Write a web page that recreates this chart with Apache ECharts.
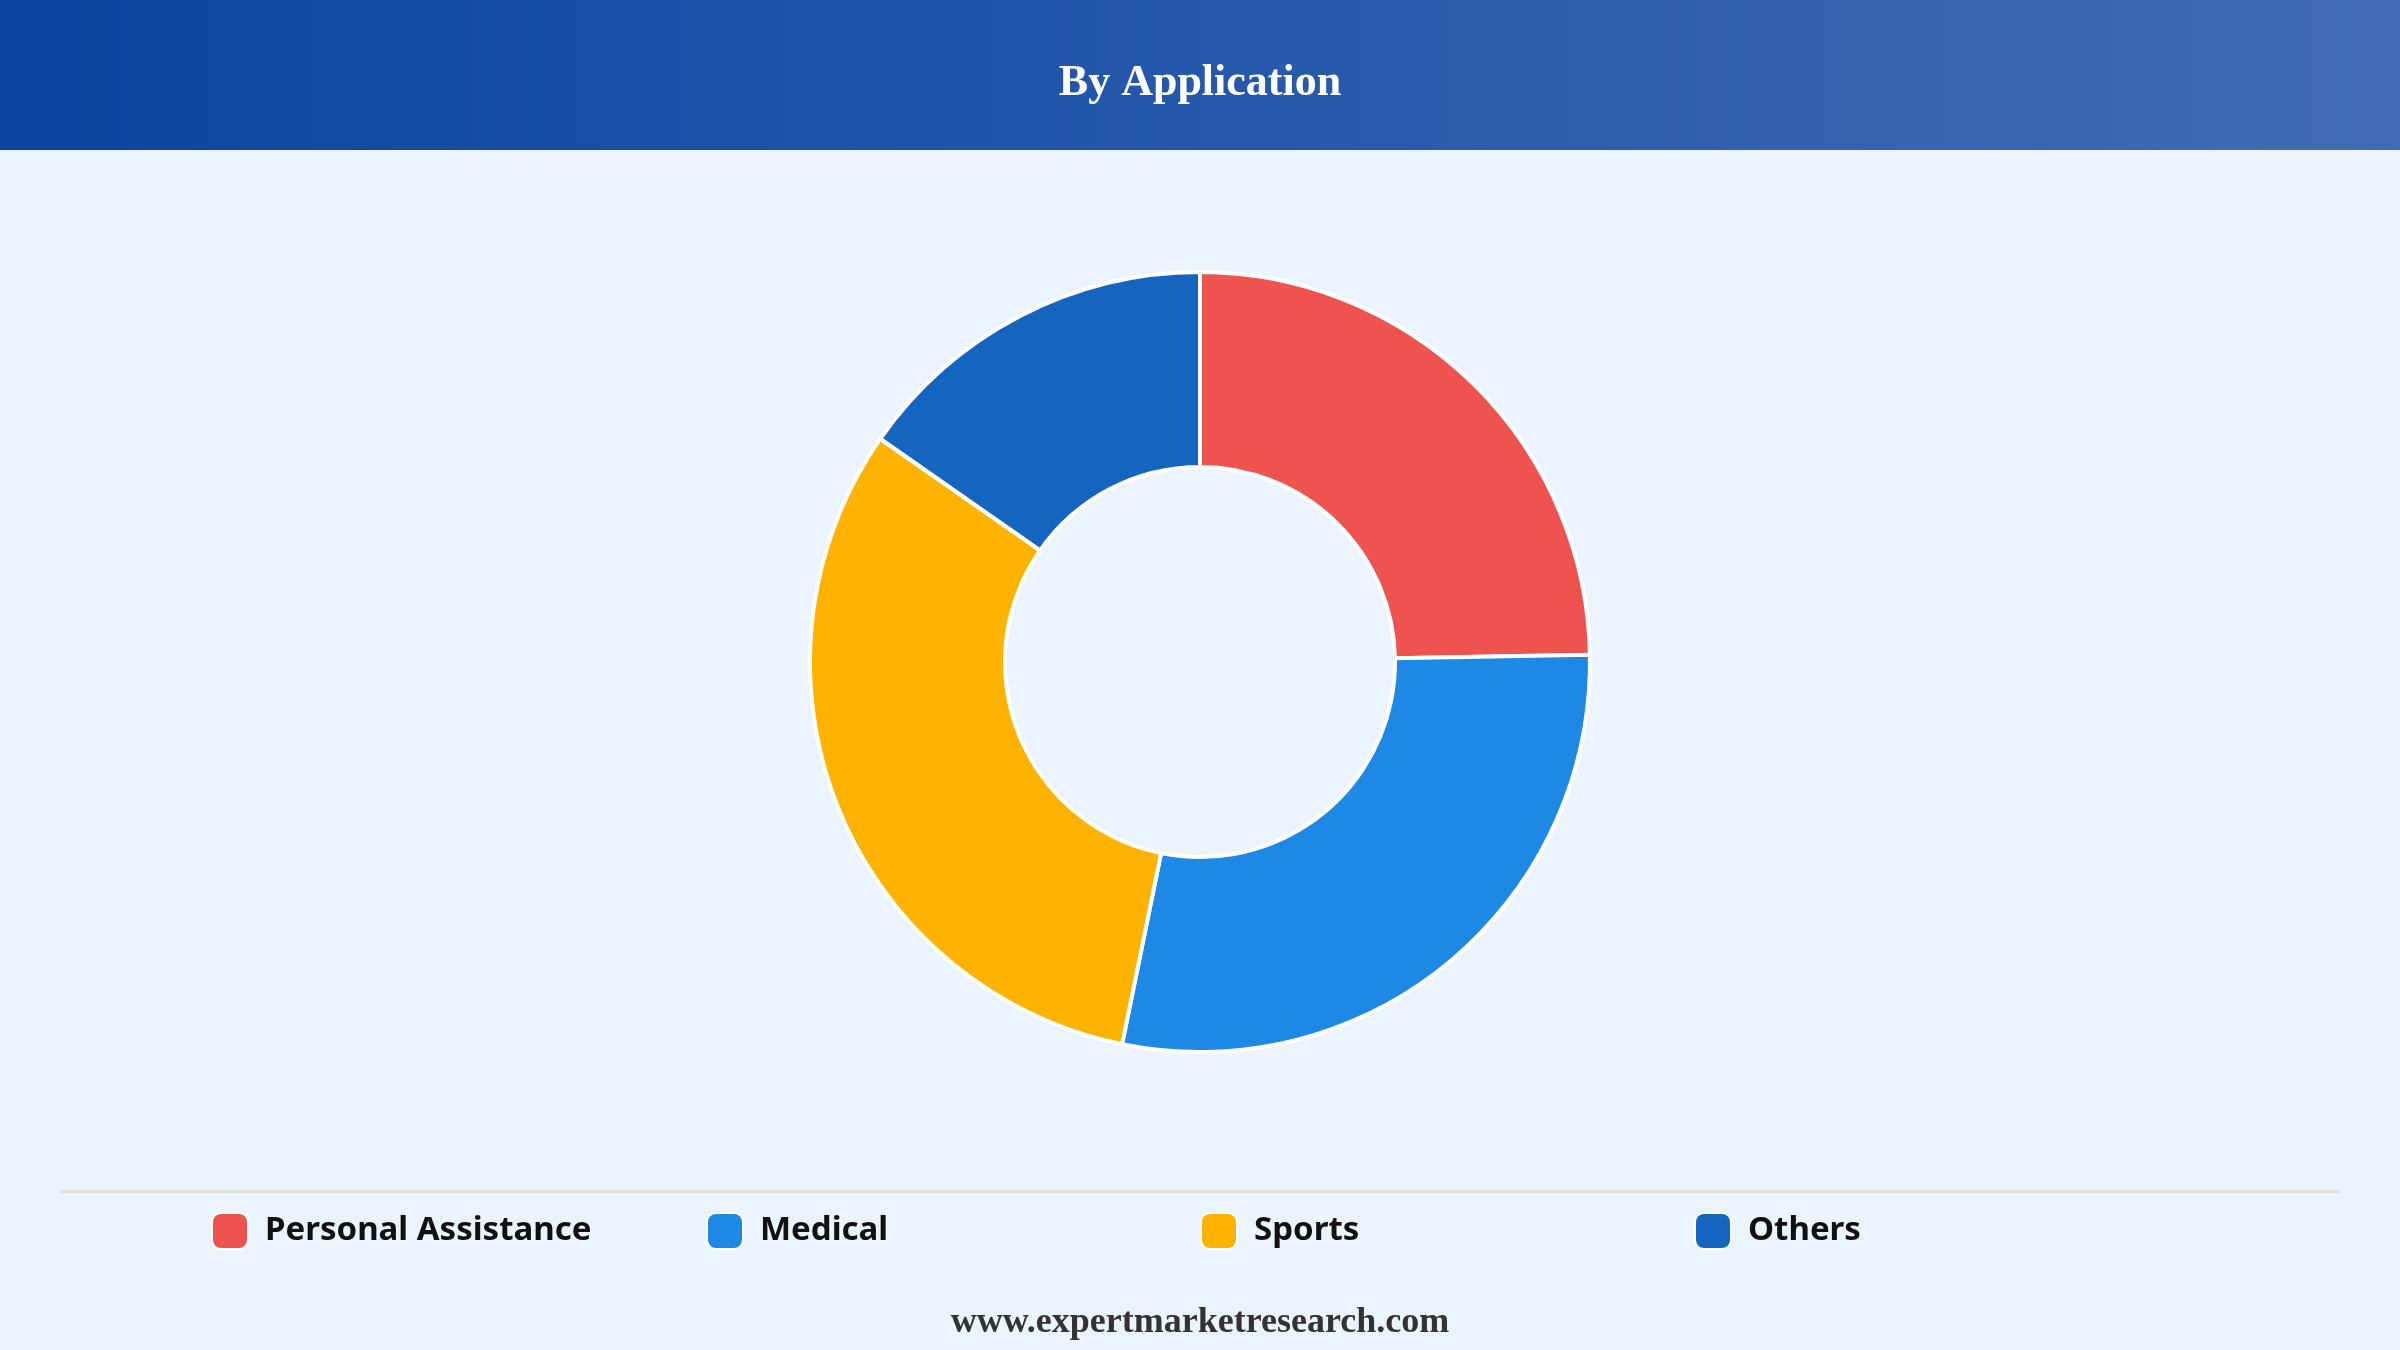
<!DOCTYPE html>
<html>
<head>
<meta charset="utf-8">
<title>By Application</title>
<script src="https://cdn.jsdelivr.net/npm/echarts@6/dist/echarts.min.js"></script>
<style>
  html, body { margin: 0; padding: 0; background: #ebf3fc; }
  #chart { width: 2400px; height: 1350px; }
</style>
</head>
<body>
<div id="chart"></div>
<script>
// 数据
const categories = ['Personal Assistance', 'Medical', 'Sports', 'Others']
const shares = [24.7, 28.5, 31.5, 15.3]
const colors = ['#ef5350', '#1e88e5', '#ffb300', '#1565c0']
// 图例每项的左边位置(等距排布)
const legendLefts = [211, 706, 1200, 1694]

const chart = echarts.init(document.getElementById('chart'))

const legendFont = {
  color: '#111',
  fontFamily: 'Noto Sans, sans-serif',
  fontWeight: 'bold',
  fontSize: 33
}

// 每个类别一个图例, 这样间距固定
const legends = categories.map((name, i) => ({
  data: [name],
  left: legendLefts[i],
  top: 1212,
  padding: 0,
  icon: 'roundRect',
  itemWidth: 36,
  itemHeight: 36,
  selectedMode: false,
  // 图标和文字之间多留一点空
  formatter: '{n|{name}}',
  textStyle: Object.assign({}, legendFont, {
    rich: { n: Object.assign({}, legendFont, { padding: [0, 0, 0, 12] }) }
  })
}))

const option = {
  backgroundColor: '#ebf3fc',
  color: colors,
  title: {
    text: 'By Application',
    left: 'center',
    top: 57,
    textStyle: {
      color: '#fff',
      fontFamily: 'Liberation Serif, Times New Roman, serif',
      fontWeight: 'bold',
      fontSize: 44
    }
  },
  // 头部背景、分隔线、底部网址
  graphic: [
    {
      type: 'rect',
      z: -1,
      shape: { x: 0, y: 0, width: 2400, height: 150 },
      style: {
        fill: new echarts.graphic.LinearGradient(0, 0, 1, 0, [
          { offset: 0, color: '#0b44a1' },
          { offset: 1, color: '#3f6cb4' }
        ])
      }
    },
    {
      type: 'rect',
      shape: { x: 60, y: 1190, width: 2280, height: 3 },
      style: { fill: '#dcdfe4' }
    },
    {
      type: 'text',
      x: 1200,
      y: 1323,
      style: {
        text: 'www.expertmarketresearch.com',
        fill: '#333',
        align: 'center',
        verticalAlign: 'middle',
        font: 'bold 36px "Liberation Serif", "Times New Roman", serif'
      }
    }
  ],
  legend: legends,
  series: [
    {
      type: 'pie',
      center: [1200, 662],
      radius: [195, 390],
      startAngle: 90,
      clockwise: true,
      label: { show: false },
      labelLine: { show: false },
      itemStyle: { borderColor: '#fff', borderWidth: 4 },
      emphasis: { scale: false },
      data: categories.map((name, i) => ({ name: name, value: shares[i] }))
    }
  ]
}

chart.setOption(option)
</script>
</body>
</html>
